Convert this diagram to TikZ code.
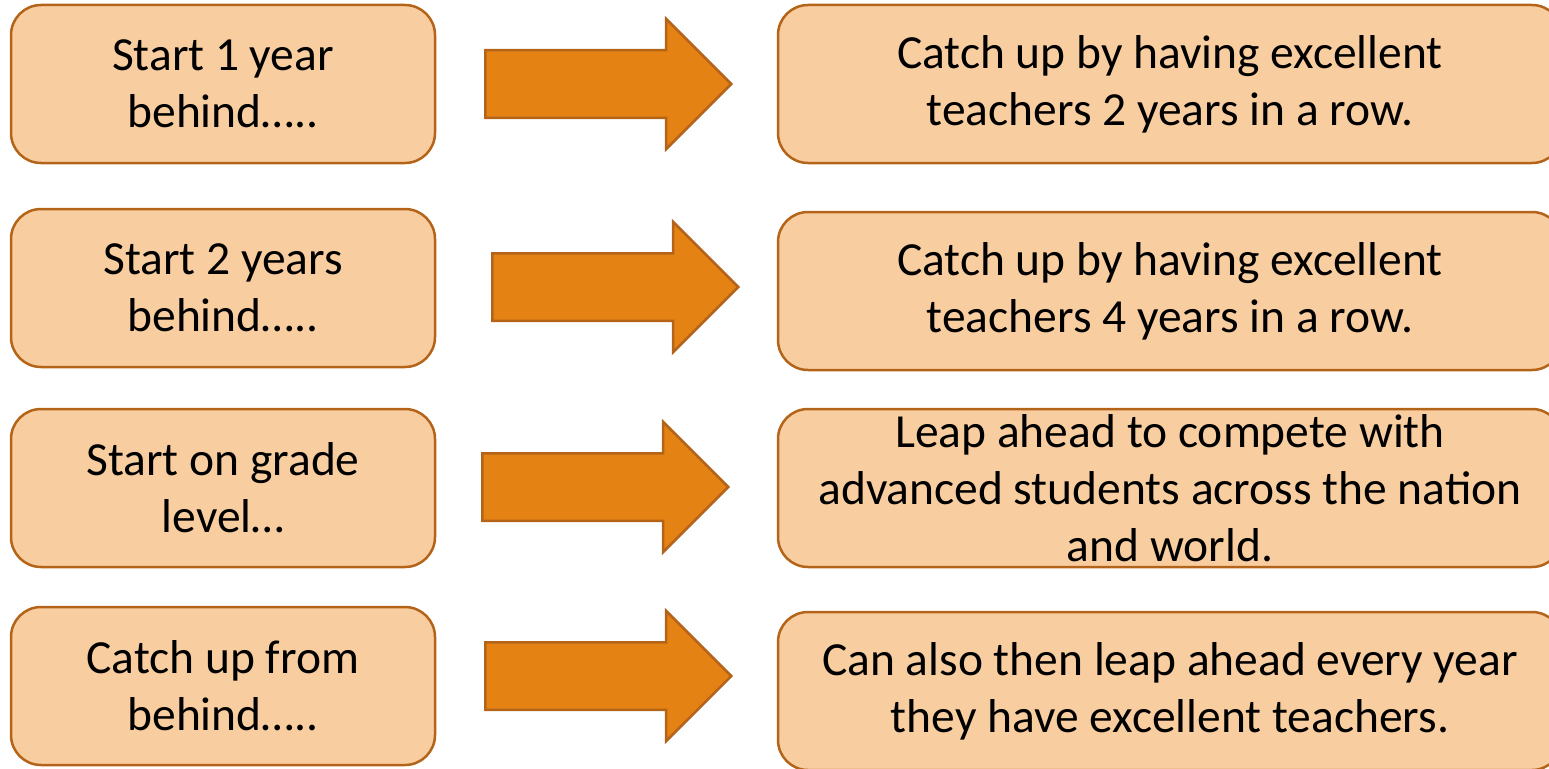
\documentclass[tikz,border=0pt]{standalone}
\usepackage{fontspec}
\setmainfont{Carlito}
\usetikzlibrary{shapes.arrows}

\definecolor{boxfill}{RGB}{248,205,160}
\definecolor{boxline}{RGB}{180,100,25}
\definecolor{arrowfill}{RGB}{228,130,20}

\tikzstyle{startbox} = [rectangle, rounded corners=30pt, minimum width=424pt, minimum height=158pt, text centered, align=center, draw=boxline, fill=boxfill, line width=2.5pt, inner sep=0pt, font=\fontsize{47.5}{57}\selectfont]
\tikzstyle{resultbox} = [startbox, minimum width=784pt]
\tikzstyle{bigarrow} = [single arrow, draw=boxline, fill=arrowfill, line width=2.5pt, inner sep=32.5pt, single arrow head extend=31.5pt, single arrow head indent=0pt, minimum height=246pt, anchor=tail]

\begin{document}
\begin{tikzpicture}[x=1pt, y=-1pt]
		\useasboundingbox (0,0) rectangle (1549,768);
		\node (start1) [startbox] at (223,84) {Start 1 year\\behind…..};
		\node (start2) [startbox] at (223,288) {Start 2 years\\behind…..};
		\node (start3) [startbox] at (223,488) {Start on grade\\level…};
		\node (start4) [startbox] at (223,686) {Catch up from\\behind…..};
		
		\node (res1) [resultbox] at (1170,84) {Catch up by having excellent\\teachers 2 years in a row.};
		\node (res2) [resultbox] at (1170,291) {Catch up by having excellent\\teachers 4 years in a row.};
		\node (res3) [resultbox] at (1170,488) {Leap ahead to compete with\\advanced students across the nation\\and world.};
		\node (res4) [resultbox] at (1170,691) {Can also then leap ahead every year\\they have excellent teachers.};
		
		\node (arr1) [bigarrow] at (484,84) {};
		\node (arr2) [bigarrow] at (491,287) {};
		\node (arr3) [bigarrow] at (481,487) {};
		\node (arr4) [bigarrow] at (484,676) {};
	\end{tikzpicture}
\end{document}
